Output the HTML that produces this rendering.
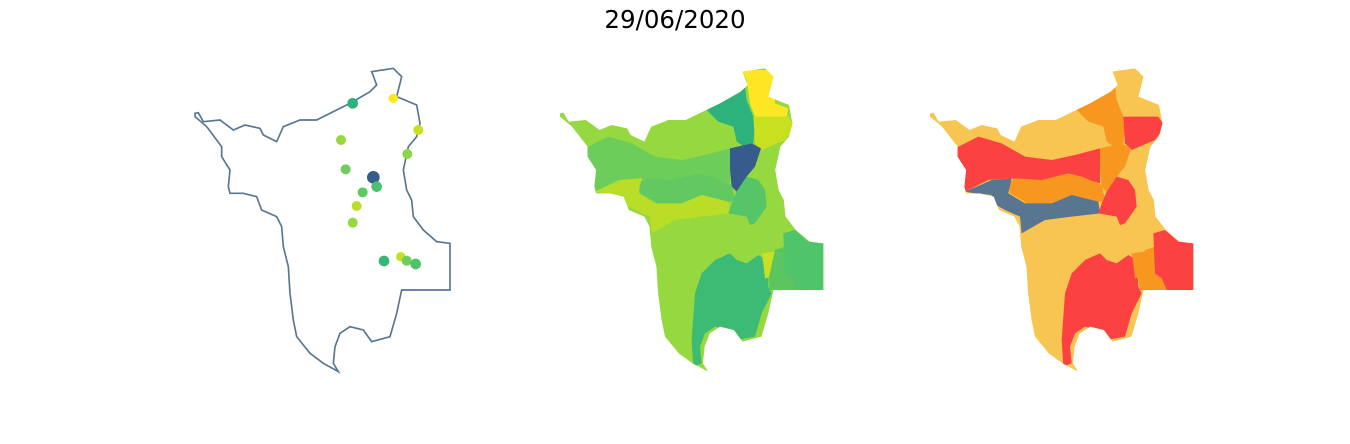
<!DOCTYPE html>
<html><head><meta charset="utf-8"><style>
html,body{margin:0;padding:0;background:#fff;}
svg{display:block;}
</style></head><body>
<svg id="fig" width="1350" height="444" viewBox="0 0 1350 444" xmlns="http://www.w3.org/2000/svg">
<text x="675" y="28" text-anchor="middle" font-family="DejaVu Sans, sans-serif" font-size="24.5" fill="#000">29/06/2020</text>
<defs>
<path id="outline" d="M15,160 L25,158 L40,185 L90,180 L130,210 L165,195 L210,205 L220,225 L260,245 L280,200 L330,180 L380,180 L430,155 L480,130 L540,95 L560,75 L545,35 L610,25 L635,50 L620,110 L680,135 L690,190 L680,230 L655,260 L640,330 L650,390 L665,420 L670,470 L700,510 L740,545 L780,550 L780,690 L635,690 L620,760 L600,830 L545,845 L520,810 L480,800 L450,820 L435,860 L430,910 L445,935 L400,910 L360,880 L320,830 L310,780 L300,700 L295,620 L280,560 L275,500 L260,470 L215,450 L200,410 L160,400 L120,400 L115,380 L120,330 L95,290 L95,260 L50,200 L15,170 Z"/>
<clipPath id="clip"><use href="#outline" transform="translate(15,0) scale(1.033,1) translate(-15,0)"/></clipPath>
</defs>
<g transform="translate(190,60) scale(0.33333)">
<use href="#outline" fill="none" stroke="#587690" stroke-width="5"/>
<g id="pts"></g>
</g>
<g id="p2" transform="translate(555,60) scale(0.33333)"></g>
<g id="p3" transform="translate(925,60) scale(0.33333)"></g>
</svg>
<script>
const ptX=[488,610,685,453,652,467,550,560,518,500,488,582,632,650,677];
const ptY=[130,115,210,240,282,328,352,380,397,438,488,603,590,602,612];
const ptC=['#2db27d','#fde725','#c8e020','#96d83f','#8ed645','#6ccd5a','#365c8d','#4cc26c','#5ec962','#bade28','#96d83f','#35b779','#c8e020','#6ccd5a','#4cc26c'];
const ptR=[16,14,15,15,15,15,19,16,15,15,15,16,14,15,16];
const regionNames=['north-yellow','north-teal','northeast','central-blue','west-band','middle-band','lower-band','east-middle','south','small-east','east-strip','far-east'];
const colors2=['#fde725','#2db27d','#c8e020','#365c8d','#6ccd5a','#62c862','#bade28','#55c568','#3dbb75','#c8e020','#5cc55f','#50c46a'];
const colors3=['#f8c552','#f7971f','#fb4142','#f7971f','#fb4142','#f7971f','#58768f','#fb4142','#fb4142','#f7971f','#f7971f','#fb4142'];
const polys=[
"560,30 650,30 660,80 660,130 700,145 695,170 600,170 585,130 575,60",
"455,150 490,125 540,100 570,80 575,120 595,170 600,200 595,250 575,265 545,245 535,200 490,185",
"595,170 700,170 720,200 690,240 620,270 600,250",
"525,265 590,250 618,265 600,320 575,350 545,395 530,380 525,330",
"90,265 160,230 230,250 300,290 380,300 450,285 525,265 525,370 440,345 380,360 300,370 260,355 190,360 120,395 100,330",
"250,370 270,355 350,360 430,340 470,350 530,375 540,420 510,430 440,405 380,430 320,440 290,420 255,400",
"120,395 200,360 260,355 250,400 300,430 380,430 440,405 520,425 525,460 440,470 360,480 290,520 285,470 240,450 205,430 200,405 150,400",
"545,395 575,350 610,360 630,390 635,440 600,490 585,495 575,470 520,460 530,430",
"415,920 410,840 420,700 440,640 480,600 525,580 545,600 575,610 610,585 635,600 640,680 650,700 620,760 600,830 545,840 520,810 480,800 450,820 435,860 440,910",
"620,580 660,575 650,650 630,655 625,610",
"660,570 690,560 690,640 710,655 730,690 645,690 640,660",
"685,520 720,510 760,545 805,550 805,700 730,700 710,655 690,640"
];
const NS='http://www.w3.org/2000/svg';
const pts=document.getElementById('pts');
for(let i=0;i<ptX.length;i++){
  const c=document.createElementNS(NS,'circle');
  c.setAttribute('cx',ptX[i]);c.setAttribute('cy',ptY[i]);c.setAttribute('r',ptR[i]);c.setAttribute('fill',ptC[i]);
  
  
  pts.appendChild(c);
}
function panel(id,bg,cols){
  const g=document.getElementById(id);
  const inner=document.createElementNS(NS,'g');
  inner.setAttribute('clip-path','url(#clip)');
  const base=document.createElementNS(NS,'rect');
  base.setAttribute('x',0);base.setAttribute('y',0);base.setAttribute('width',830);base.setAttribute('height',960);base.setAttribute('fill',bg);
  
  
  inner.appendChild(base);
  for(let i=0;i<polys.length;i++){
    const p=document.createElementNS(NS,'polygon');
    p.setAttribute('points',polys[i]);p.setAttribute('fill',cols[i]);
    
    
    inner.appendChild(p);
  }
  g.appendChild(inner);
}
panel('p2','#96d83f',colors2);
panel('p3','#f8c552',colors3);
</script>
</body></html>
